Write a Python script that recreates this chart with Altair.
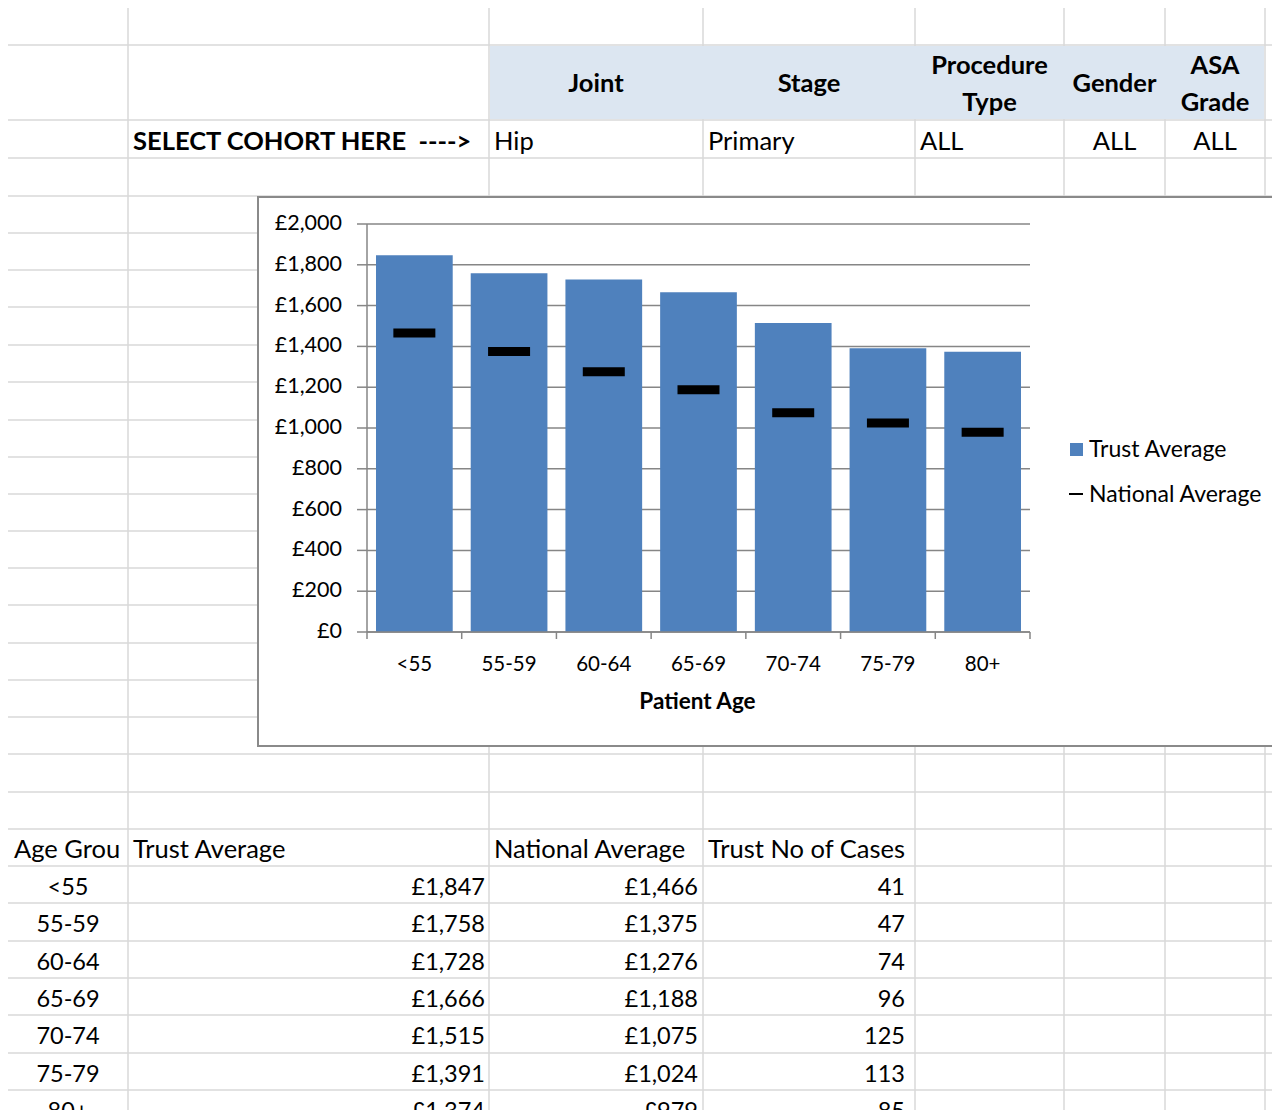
import altair as alt
import pandas as pd

# ---------------- data ----------------
ages = ["<55", "55-59", "60-64", "65-69", "70-74", "75-79", "80+"]
trust_avg = [1847, 1758, 1728, 1666, 1515, 1391, 1374]
national_avg = [1466, 1375, 1276, 1188, 1075, 1024, 979]
trust_cases = [41, 47, 74, 96, 125, 113, 85]
y_ticks = [0, 200, 400, 600, 800, 1000, 1200, 1400, 1600, 1800, 2000]
filter_names = ["Joint", "Stage", "Procedure Type", "Gender", "ASA Grade"]
filter_values = ["Hip", "Primary", "ALL", "ALL", "ALL"]
table_headers = ["Age Group", "Trust Average", "National Average", "Trust No of Cases"]
legend_labels = ["Trust Average", "National Average"]
select_label = "SELECT COHORT HERE \u00a0---->"
x_title = "Patient Age"

# ---------------- layout (page pixels) ----------------
W, H = 1264, 1102
FONT = "Lato"
TXT_FS = 25.5
NUM_FS = 23.5
BOLD_FS = 25.5
CHART_FS = 20.5
YLAB_FS = 21.5
LEG_FS = 23
col_edges = [128, 489, 703, 915, 1064, 1165, 1265]
row_edges = [45, 120, 158, 196, 233, 270, 307, 345, 382, 420, 457, 494, 531,
             568, 605, 643, 680, 717, 754, 792, 829, 866, 903, 941, 978, 1015,
             1053, 1090]
box_x0, box_x1, box_y0, box_y1 = 258, 1320, 197, 746
filter_centers = [596, 809, 989.5, 1114.5, 1215]
filter_value_x = [494, 708, 920, 1114.5, 1215]
filter_value_align = ["left", "left", "left", "center", "center"]
table_header_x = [14, 133, 494, 708]
table_header_y = 850
table_row_y0, table_row_step = 888, 37.3
plot_x0, plot_x1 = 367, 1030
plot_y0, plot_y1 = 632, 224

PX = alt.Scale(domain=[8, 8 + W], range=[0, W])
PY = alt.Scale(domain=[8, 8 + H], range=[0, H])


def X(f):
    return alt.X(f, type="quantitative", scale=PX, axis=None)


def Y(f):
    return alt.Y(f, type="quantitative", scale=PY, axis=None)


def texts(rows, align="left", bold=False, size=TXT_FS, **kw):
    df = pd.DataFrame(rows, columns=["x", "y", "t"])
    return alt.Chart(df).mark_text(
        align=align, baseline="middle", font=FONT, fontSize=size,
        fontWeight="bold" if bold else "normal", color="black", **kw
    ).encode(x=X("x"), y=Y("y"), text="t:N")


# spreadsheet gridlines (segments kept clear of the embedded chart box)
v_segs = []
for x in col_edges:
    if box_x0 < x < box_x1:
        v_segs += [(x, 0, box_y0), (x, box_y1, 1200)]
    else:
        v_segs.append((x, 0, 1200))
h_segs = []
for y in row_edges:
    if box_y0 < y < box_y1:
        h_segs.append((y, 0, box_x0))
    else:
        h_segs.append((y, 0, 1300))
vlines = alt.Chart(pd.DataFrame(v_segs, columns=["x", "y", "y2"])).mark_rule(
    color="#d9d9d9", strokeWidth=1.5).encode(x=X("x"), y=Y("y"), y2="y2")
hlines = alt.Chart(pd.DataFrame(h_segs, columns=["y", "x", "x2"])).mark_rule(
    color="#d9d9d9", strokeWidth=1.5).encode(y=Y("y"), x=X("x"), x2="x2")

header_fill = alt.Chart(pd.DataFrame({"x": [490], "x2": [1264], "y": [46], "y2": [119]})).mark_rect(
    color="#DCE6F1").encode(x=X("x"), x2="x2", y=Y("y"), y2="y2")

chart_box = alt.Chart(pd.DataFrame({"x": [box_x0], "x2": [box_x1], "y": [box_y0], "y2": [box_y1]})).mark_rect(
    fillOpacity=0, stroke="#8a8a8a", strokeWidth=2).encode(x=X("x"), x2="x2", y=Y("y"), y2="y2")

# header texts (two-word names wrap to two lines)
hdr_rows = []
for name, cx in zip(filter_names, filter_centers):
    parts = name.split(" ")
    if len(parts) == 1:
        hdr_rows.append((cx, 84, name))
    else:
        hdr_rows.append((cx, 66, parts[0]))
        hdr_rows.append((cx, 103, parts[1]))
hdr_text = texts(hdr_rows, align="center", bold=True, size=BOLD_FS)

select_text = texts([(133, 142, select_label)], bold=True, size=BOLD_FS)
fv_left = texts([(x, 142, v) for v, x, a in zip(filter_values, filter_value_x, filter_value_align) if a == "left"])
fv_center = texts([(x, 142, v) for v, x, a in zip(filter_values, filter_value_x, filter_value_align) if a == "center"],
                  align="center")

# table
th_first = texts([(table_header_x[0], table_header_y, table_headers[0])], limit=114, ellipsis="\u200b")
th_rest = texts([(x, table_header_y, t) for x, t in zip(table_header_x[1:], table_headers[1:])])
row_y = [table_row_y0 + i * table_row_step for i in range(len(ages))]
td_age = texts([(68, y, a) for y, a in zip(row_y, ages)], align="center", size=NUM_FS)
td_vals = texts(
    [(485, y, f"£{v:,}") for y, v in zip(row_y, trust_avg)]
    + [(698, y, f"£{v:,}") for y, v in zip(row_y, national_avg)]
    + [(905, y, f"{v}") for y, v in zip(row_y, trust_cases)],
    align="right", size=NUM_FS)

# legend
leg_sq = alt.Chart(pd.DataFrame({"x": [1070], "x2": [1083], "y": [443], "y2": [456]})).mark_rect(
    color="#4F81BD").encode(x=X("x"), x2="x2", y=Y("y"), y2="y2")
leg_dash = alt.Chart(pd.DataFrame({"x": [1069], "x2": [1083], "y": [494]})).mark_rule(
    color="black", strokeWidth=2).encode(x=X("x"), x2="x2", y=Y("y"))
leg_txt = texts([(1089, 450, legend_labels[0]), (1089, 495, legend_labels[1])], size=LEG_FS)

background = alt.layer(vlines, hlines, header_fill, chart_box, hdr_text, select_text,
                       fv_left, fv_center, th_first, th_rest, td_age, td_vals,
                       leg_sq, leg_dash, leg_txt)

# ---------------- embedded bar chart (own scales) ----------------
chart_df = pd.DataFrame({"age": ages, "trust": trust_avg, "national": national_avg})
tick_df = pd.DataFrame({"v": y_ticks})
px0, px1 = plot_x0 - 8, plot_x1 - 8
py0, py1 = plot_y0 - 8, plot_y1 - 8
xs = alt.Scale(domain=ages, range=[px0, px1], paddingInner=0, paddingOuter=0)
ys = alt.Scale(domain=[0, 2000], range=[py0, py1], nice=False)
axis_col = "#868686"


def XB(f, **kw):
    return alt.X(f, type="nominal", scale=xs, axis=None, **kw)


def YB(f):
    return alt.Y(f, type="quantitative", scale=ys, axis=None)


grid = alt.Chart(tick_df).mark_rule(color=axis_col, strokeWidth=1.5).encode(
    y=YB("v"), x=alt.value(px0), x2=alt.value(px1))
bars = alt.Chart(chart_df).mark_bar(color="#4F81BD", width={"band": 0.81}).encode(
    x=XB("age"), y=YB("trust"))
nat = alt.Chart(chart_df).mark_tick(color="black", opacity=1, thickness=9, size=42).encode(
    x=XB("age"), y=YB("national"))

y_dom = alt.Chart(tick_df).mark_rule(color=axis_col, strokeWidth=1.5).encode(
    y=alt.Y("min(v):Q", scale=ys, axis=None), y2="max(v):Q", x=alt.value(px0))
y_tk = alt.Chart(tick_df).mark_rule(color=axis_col, strokeWidth=1.5).encode(
    y=YB("v"), x=alt.value(px0 - 10), x2=alt.value(px0))
y_lab = alt.Chart(tick_df).transform_calculate(
    lab="'£' + format(datum.v, ',')"
).mark_text(align="right", baseline="middle", font=FONT, fontSize=YLAB_FS, color="black").encode(
    y=YB("v"), x=alt.value(342 - 8), text="lab:N")

x_dom = alt.Chart(tick_df).mark_rule(color=axis_col, strokeWidth=1.5).encode(
    y=alt.Y("min(v):Q", scale=ys, axis=None), x=alt.value(px0), x2=alt.value(px1))
x_tk = alt.Chart(chart_df).mark_rule(color=axis_col, strokeWidth=1.5).encode(
    x=XB("age", bandPosition=0), y=alt.value(py0), y2=alt.value(py0 + 7))
x_tk_end = alt.Chart(chart_df).transform_filter(
    alt.datum.age == ages[-1]
).mark_rule(color=axis_col, strokeWidth=1.5).encode(
    x=XB("age", bandPosition=1), y=alt.value(py0), y2=alt.value(py0 + 7))
x_lab = alt.Chart(chart_df).mark_text(baseline="middle", font=FONT, fontSize=CHART_FS,
                                      color="black").encode(
    x=XB("age"), y=alt.value(665 - 8), text="age:N")
x_ttl = alt.Chart(pd.DataFrame({"t": [x_title]})).mark_text(
    baseline="middle", font=FONT, fontSize=22.5, fontWeight="bold", color="black").encode(
    x=alt.value((px0 + px1) / 2 - 1), y=alt.value(702 - 8), text="t:N")

bar_chart = alt.layer(grid, bars, nat, y_dom, y_tk, y_lab, x_dom, x_tk, x_tk_end, x_lab, x_ttl)

chart = alt.layer(background, bar_chart).resolve_scale(
    x="independent", y="independent"
).properties(
    width=W, height=H, padding=0, autosize=alt.AutoSizeParams(type="none"),
    background="white"
).configure_view(stroke=None)

chart.save("out.html", embed_options={"renderer": "svg", "actions": False})
